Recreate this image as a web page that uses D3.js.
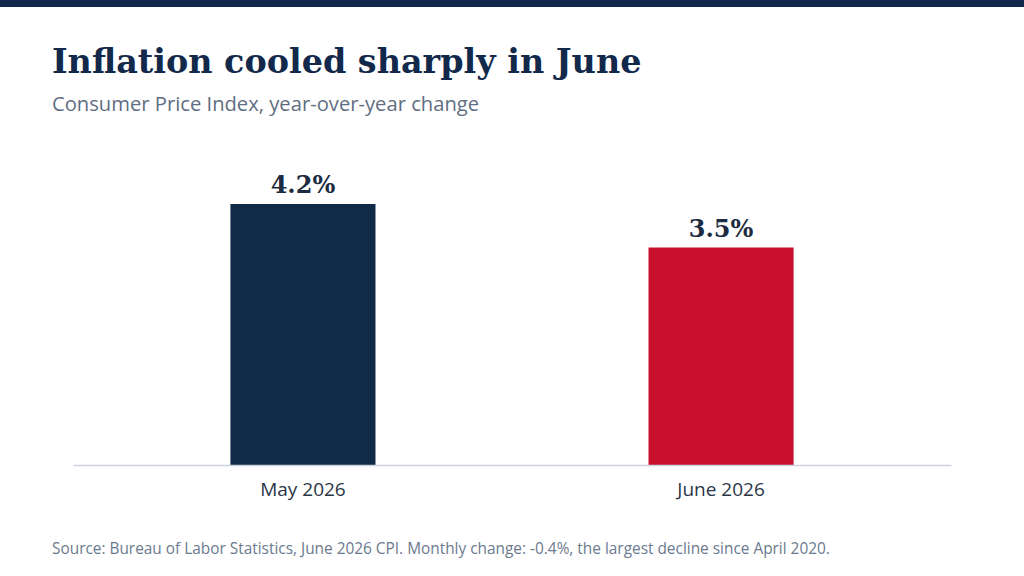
<!DOCTYPE html>
<html>
<head>
<meta charset="utf-8">
<script src="https://cdn.jsdelivr.net/npm/d3@7"></script>
<style>
  body { margin: 0; background: #fff; }
  svg { display: block; }
</style>
</head>
<body>
<svg id="chart" width="1024" height="576"></svg>
<script>
// data
const categories = ["May 2026", "June 2026"];
const values = [4.2, 3.5];
const valueLabels = ["4.2%", "3.5%"];
const barColors = ["#112a48", "#c8102e"];

const title = "Inflation cooled sharply in June";
const subtitle = "Consumer Price Index, year-over-year change";
const source = "Source: Bureau of Labor Statistics, June 2026 CPI. Monthly change: -0.4%, the largest decline since April 2020.";

const width = 1024, height = 576;
const margin = {left: 73, right: 73, top: 204, bottom: 111};
const baseY = height - margin.bottom;

const svg = d3.select("#chart");

// top band
svg.append("rect")
    .attr("x", 0).attr("y", 0)
    .attr("width", width).attr("height", 7)
    .attr("fill", "#13294b");

svg.append("text")
    .attr("x", 52).attr("y", 73)
    .attr("font-family", "'DejaVu Serif', Georgia, serif")
    .attr("font-weight", "bold")
    .attr("font-size", 33.4)
    .attr("fill", "#13294b")
    .text(title);

svg.append("text")
    .attr("x", 52).attr("y", 111)
    .attr("font-family", "'Open Sans', sans-serif")
    .attr("font-size", 20.2)
    .attr("fill", "#5f6e82")
    .text(subtitle);

// scales
const x = d3.scaleBand()
    .domain(categories)
    .range([margin.left, width - margin.right])
    .paddingInner(0.653)
    .paddingOuter(0.3765);

const y = d3.scaleLinear()
    .domain([0, d3.max(values)])
    .range([baseY, margin.top]);

const data = categories.map((c, i) => ({cat: c, value: values[i], label: valueLabels[i], color: barColors[i]}));

svg.selectAll(".bar")
    .data(data)
    .enter().append("rect")
    .attr("class", "bar")
    .attr("x", d => x(d.cat))
    .attr("y", d => y(d.value))
    .attr("width", x.bandwidth())
    .attr("height", d => baseY - y(d.value))
    .attr("fill", d => d.color);

svg.selectAll(".val")
    .data(data)
    .enter().append("text")
    .attr("class", "val")
    .attr("x", d => x(d.cat) + x.bandwidth() / 2)
    .attr("y", d => y(d.value) - 11)
    .attr("text-anchor", "middle")
    .attr("font-family", "'DejaVu Serif', Georgia, serif")
    .attr("font-weight", "bold")
    .attr("font-size", 24)
    .attr("fill", "#1c2b40")
    .text(d => d.label);

// x axis
const xAxis = svg.append("g")
    .attr("transform", "translate(0," + baseY + ")")
    .call(d3.axisBottom(x).tickSize(0).tickPadding(18));

xAxis.select(".domain")
    .attr("stroke", "#ccd3dd")
    .attr("stroke-width", 1.5);

xAxis.selectAll("text")
    .attr("font-family", "'Open Sans', sans-serif")
    .attr("font-size", 19)
    .attr("fill", "#2b3646");

svg.append("text")
    .attr("x", 52).attr("y", 554)
    .attr("font-family", "'Open Sans', sans-serif")
    .attr("font-size", 15.4)
    .attr("fill", "#6b7a8e")
    .text(source);
</script>
</body>
</html>
